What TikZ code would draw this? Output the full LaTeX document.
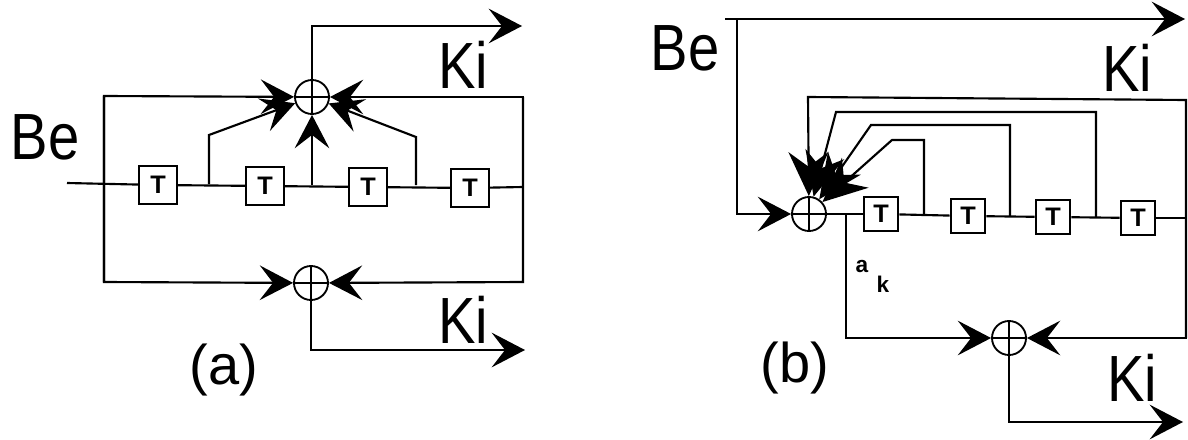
\documentclass[tikz,border=0pt]{standalone}
\usepackage{fontspec}
\setmainfont{Liberation Sans}
\usetikzlibrary{arrows.meta}
\tikzset{
  x=0.75pt,y=-0.75pt,
  wire/.style={line width=1.6pt,draw=black,line join=miter},
  arr/.style={wire,-{Stealth[length=25pt,width=26pt,inset=10pt]}},
  fanarr/.style={wire,-{Stealth[length=33pt,width=30pt,inset=11pt]}},
  delay/.style={draw=black,line width=1.6pt,fill=white,minimum size=28pt,inner sep=0pt,font=\bfseries\fontsize{19}{19}\selectfont},
  delayb/.style={delay,minimum size=26pt},
  xorgate/.style={circle,draw=black,line width=1.4pt,minimum size=25.5pt,inner sep=0pt,
    path picture={\draw[line width=1.2pt,draw=black] (path picture bounding box.north)--(path picture bounding box.south)
      (path picture bounding box.west)--(path picture bounding box.east);}},
  biglabel/.style={inner sep=0pt,font=\fontsize{49}{49}\selectfont},
  caplabel/.style={inner sep=0pt,font=\fontsize{42}{42}\selectfont},
  smalllabel/.style={inner sep=0pt,font=\bfseries\fontsize{17}{17}\selectfont},
}
\newcommand{\narrow}[1]{\scalebox{.86}[1]{#1}}
\begin{document}
\begin{tikzpicture}
\useasboundingbox (0,0) rectangle (1188,439);
% ---------- (a)
\node[xorgate] (xa) at (312,97) {};
\node[xorgate] (ya) at (311,283) {};
\node[delay] (a1) at (158,185) {T};
\node[delay] (a2) at (265,186) {T};
\node[delay] (a3) at (368,187) {T};
\node[delay] (a4) at (470,188) {T};
\coordinate (ain) at (67,183);
\coordinate (alt) at (104,96);
\coordinate (alb) at (104,282);
\coordinate (art) at (523,97);
\coordinate (arb) at (523,282);
\coordinate (arm) at (523,187);
\coordinate (aj1) at (209,184);
\coordinate (aj1u) at (209,135);
\coordinate (aj2) at (312,185);
\coordinate (aj3) at (416,185);
\coordinate (aj3u) at (416,137);
\coordinate (aoc) at (312,26);
\coordinate (aoe) at (522,26);
\coordinate (boc) at (311,350);
\coordinate (boe) at (525,350);
\draw[wire] (ain) -- (a1);
\draw[wire] (a1) -- (a2);
\draw[wire] (a2) -- (a3);
\draw[wire] (a3) -- (a4);
\draw[wire] (a4) -- (arm);
\draw[arr] (alb) -- (alt) -- (xa);
\draw[arr] (alt) -- (alb) -- (ya);
\draw[arr] (arb) -- (art) -- (xa);
\draw[arr] (art) -- (arb) -- (ya);
\draw[arr] (aj1) -- (aj1u) -- (xa);
\draw[arr] (aj2) -- (xa);
\draw[arr] (aj3) -- (aj3u) -- (xa);
\draw[arr] (xa) -- (aoc) -- (aoe);
\draw[arr] (ya) -- (boc) -- (boe);
\node[biglabel] (bea) at (45,137) {\narrow{Be}};
\node[biglabel] (kia) at (463,65) {\narrow{Ki}};
\node[biglabel] (kib) at (463,320) {\narrow{Ki}};
\node[caplabel] (capa) at (224,370) {(a)};
% ---------- (b)
\node[xorgate] (xb) at (809,214) {};
\node[xorgate] (yb) at (1009,338) {};
\node[delayb] (b1) at (881,214) {T};
\node[delayb] (b2) at (968,216) {T};
\node[delayb] (b3) at (1053,217) {T};
\node[delayb] (b4) at (1138,218) {T};
\coordinate (bs) at (725,19);
\coordinate (bv) at (737,19);
\coordinate (bvb) at (737,214);
\coordinate (be) at (1185,19);
\coordinate (br) at (1186,218);
\coordinate (brt) at (1186,100);
\coordinate (brb) at (1186,338);
\coordinate (blt) at (808,97);
\coordinate (bj3) at (1096,217);
\coordinate (bj3u) at (1096,112);
\coordinate (bj3l) at (836,112);
\coordinate (bj2) at (1010,216);
\coordinate (bj2u) at (1010,125);
\coordinate (bj2l) at (871,125);
\coordinate (bj1) at (924,215);
\coordinate (bj1u) at (924,140);
\coordinate (bj1l) at (892,140);
\coordinate (bak) at (846,214);
\coordinate (bakb) at (846,338);
\coordinate (boc2) at (1009,422);
\coordinate (boe2) at (1183,422);
\draw[arr] (bs) -- (be);
\draw[arr] (bv) -- (bvb) -- (xb);
\draw[wire] (xb) -- (b1);
\draw[wire] (b1) -- (b2);
\draw[wire] (b2) -- (b3);
\draw[wire] (b3) -- (b4);
\draw[wire] (b4) -- (br);
\draw[fanarr] (brb) -- (brt) -- (blt) -- (xb);
\draw[fanarr] (bj3) -- (bj3u) -- (bj3l) -- (xb);
\draw[fanarr] (bj2) -- (bj2u) -- (bj2l) -- (xb);
\draw[fanarr] (bj1) -- (bj1u) -- (bj1l) -- (xb);
\draw[arr] (bak) -- (bakb) -- (yb);
\draw[arr] (brt) -- (brb) -- (yb);
\draw[arr] (yb) -- (boc2) -- (boe2);
\node[smalllabel] (aklbl) at (862,267) {a};
\node[smalllabel] (kklbl) at (883,284) {k};
\node[biglabel] (beb) at (685,48) {\narrow{Be}};
\node[biglabel] (kic) at (1127,68) {\narrow{Ki}};
\node[biglabel] (kid) at (1132,378) {\narrow{Ki}};
\node[caplabel] (capb) at (795,368) {(b)};
\end{tikzpicture}
\end{document}
